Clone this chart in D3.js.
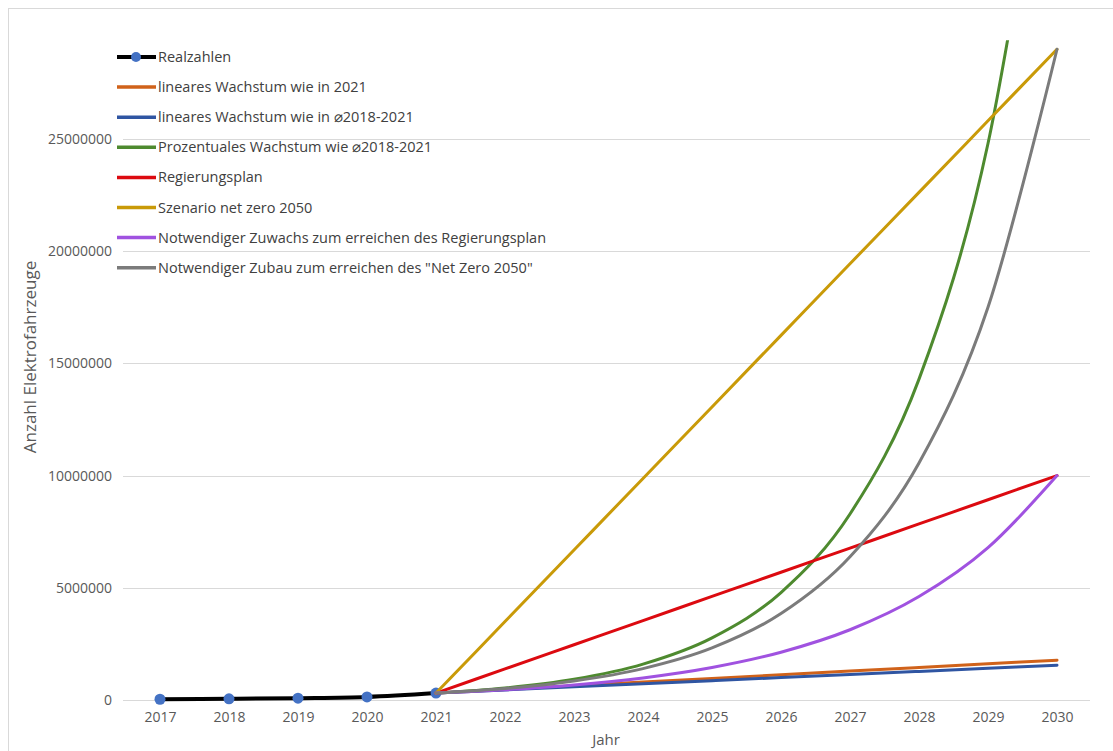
<!DOCTYPE html>
<html>
<head>
<meta charset="utf-8">
<script src="https://cdn.jsdelivr.net/npm/d3@7"></script>
<style>
  html, body { margin: 0; padding: 0; background: #fff; }
  svg { display: block; font-family: "Open Sans", "Liberation Sans", sans-serif; }
</style>
</head>
<body>
<svg id="chart" width="1113" height="751"></svg>
<script>
// Jahre (Kategorien der x-Achse)
const years = [2017, 2018, 2019, 2020, 2021, 2022, 2023, 2024, 2025, 2026, 2027, 2028, 2029, 2030];
const forecastYears = [2021, 2022, 2023, 2024, 2025, 2026, 2027, 2028, 2029, 2030];

// Bestand Elektrofahrzeuge (Realzahlen 2017–2021)
const realYears = [2017, 2018, 2019, 2020, 2021];
const realzahlen = [34022, 53861, 83175, 136617, 309083];

// Szenarien 2021–2030
const linear2021 = [309083, 472000, 635000, 798000, 961000, 1124000, 1287000, 1450000, 1613000, 1776000];
const linearAvg = [309083, 447000, 585000, 723000, 861000, 999000, 1137000, 1275000, 1413000, 1551000];
const prozentual = [309083, 535000, 925000, 1600000, 2770000, 4790000, 8290000, 14300000, 24800000, 42900000];
const regierungsplan = [309083, 1386000, 2463000, 3540000, 4616000, 5693000, 6770000, 7847000, 8923000, 10000000];
const netZero = [309083, 3497000, 6685000, 9873000, 13060000, 16250000, 19440000, 22620000, 25810000, 29000000];
const zuwachsPlan = [309083, 455000, 669000, 984000, 1448000, 2130000, 3130000, 4610000, 6790000, 10000000];
const zubauNetZero = [309083, 512000, 848000, 1400000, 2320000, 3850000, 6380000, 10560000, 17500000, 29000000];

// y-Achsenbeschriftung
const yTicks = [0, 5000000, 10000000, 15000000, 20000000, 25000000];
const yMax = 29400000;

const seriesNames = [
  "Realzahlen",
  "lineares Wachstum wie in 2021",
  "lineares Wachstum wie in \u23002018-2021",
  "Prozentuales Wachstum wie \u23002018-2021",
  "Regierungsplan",
  "Szenario net zero 2050",
  "Notwendiger Zuwachs zum erreichen des Regierungsplan",
  "Notwendiger Zubau zum erreichen des \"Net Zero 2050\""
];
const seriesColors = ["#000000", "#d0621a", "#2f55a2", "#4e8a2f", "#dc0a10", "#c99a08", "#a052e0", "#7b7b7b"];
const seriesValues = [realzahlen, linear2021, linearAvg, prozentual, regierungsplan, netZero, zuwachsPlan, zubauNetZero];

const svg = d3.select("#chart");

// Rahmen des Diagrammbereichs
svg.append("rect")
  .attr("x", 8.5).attr("y", 8.5).attr("width", 1200).attr("height", 1000)
  .attr("fill", "none").attr("stroke", "#d9d9d9").attr("stroke-width", 1);

const x = d3.scalePoint().domain(years).range([160, 1057]);
const y = d3.scaleLinear().domain([0, yMax]).range([700, 700 - yMax / 5000000 * 112.2]);

const gridLeft = 123, gridRight = 1090;

// Gitternetzlinien
svg.append("g")
  .selectAll("line")
  .data(yTicks)
  .join("line")
  .attr("x1", gridLeft).attr("x2", gridRight)
  .attr("y1", d => Math.round(y(d)) + 0.5).attr("y2", d => Math.round(y(d)) + 0.5)
  .attr("stroke", "#d9d9d9").attr("stroke-width", 1);

// y-Achse
const yAxis = d3.axisLeft(y).tickValues(yTicks).tickFormat(d3.format("d")).tickSize(0).tickPadding(0);
const yg = svg.append("g").attr("transform", "translate(112,0)").call(yAxis);
yg.select(".domain").remove();
yg.selectAll("text").attr("fill", "#595959").style("font-size", "14px")
  .style("font-family", "'Open Sans', sans-serif");

// x-Achse
const xAxis = d3.axisBottom(x).tickSize(0).tickPadding(0);
const xg = svg.append("g").attr("transform", "translate(0,712)").call(xAxis);
xg.select(".domain").remove();
xg.selectAll("text").attr("fill", "#595959").style("font-size", "14px")
  .style("font-family", "'Open Sans', sans-serif");

// Achsentitel
svg.append("text")
  .attr("x", 606).attr("y", 745)
  .attr("text-anchor", "middle")
  .attr("fill", "#595959").style("font-size", "15px")
  .text("Jahr");
svg.append("text")
  .attr("transform", "translate(36,357) rotate(-90)")
  .attr("text-anchor", "middle")
  .attr("fill", "#595959").style("font-size", "17px")
  .text("Anzahl Elektrofahrzeuge");

// Zeichenbereich begrenzen
svg.append("defs").append("clipPath").attr("id", "plotClip")
  .append("rect")
  .attr("x", gridLeft).attr("y", y(yMax))
  .attr("width", gridRight - gridLeft).attr("height", 720 - y(yMax));

const plot = svg.append("g").attr("clip-path", "url(#plotClip)");

const line = d3.line()
  .x(d => x(d[0]))
  .y(d => y(d[1]))
  .curve(d3.curveCatmullRom.alpha(0));

seriesValues.forEach((vals, i) => {
  const xs = i === 0 ? realYears : forecastYears;
  const pts = xs.map((yr, j) => [yr, vals[j]]);
  plot.append("path")
    .datum(pts)
    .attr("d", line)
    .attr("fill", "none")
    .attr("stroke", seriesColors[i])
    .attr("stroke-width", i === 0 ? 4 : 3)
    .attr("stroke-linecap", "round");
  if (i === 0) {
    plot.append("g")
      .selectAll("circle")
      .data(pts)
      .join("circle")
      .attr("cx", d => x(d[0]))
      .attr("cy", d => y(d[1]))
      .attr("r", 5.5)
      .attr("fill", "#4472c4");
  }
});

// Legende
const legend = svg.append("g");
seriesNames.forEach((name, i) => {
  const ly = 57 + i * 30.1;
  const g = legend.append("g").attr("transform", `translate(0,${ly})`);
  g.append("line")
    .attr("x1", 117).attr("x2", 156).attr("y1", 0).attr("y2", 0)
    .attr("stroke", seriesColors[i]).attr("stroke-width", i === 0 ? 4 : 3.5);
  if (i === 0) {
    g.append("circle").attr("cx", 136).attr("cy", 0).attr("r", 5).attr("fill", "#4472c4");
  }
  g.append("text")
    .attr("x", 158).attr("y", 0).attr("dy", "0.35em")
    .attr("fill", "#404040").style("font-size", "14.5px")
    .text(name);
});
</script>
</body>
</html>
